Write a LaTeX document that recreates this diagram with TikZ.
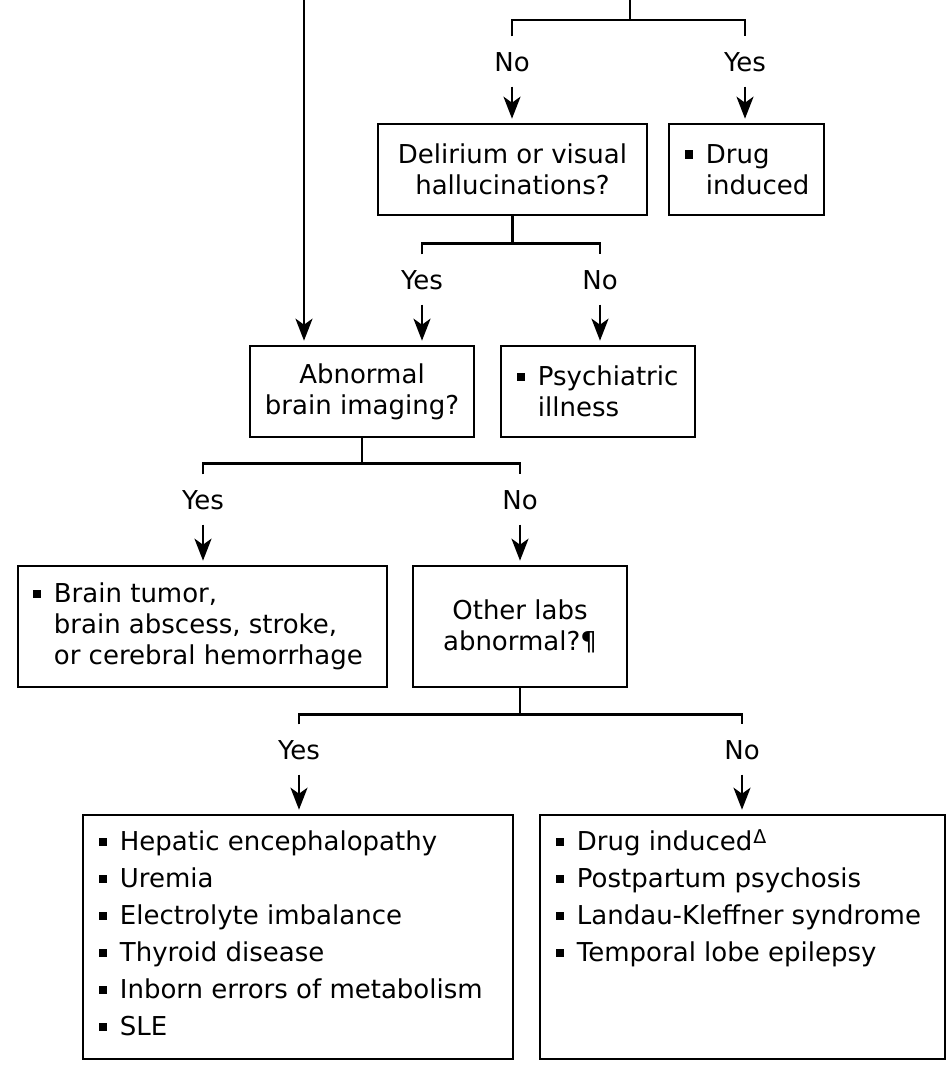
\documentclass[tikz,border=0pt]{standalone}
\usepackage{fontspec}
\setmainfont{DejaVu Sans}
\usetikzlibrary{arrows.meta,calc}
\newcommand{\bul}{\makebox[21pt][l]{\rule[4.5pt]{8.5pt}{8.5pt}}}
\newcommand{\ind}{\hspace*{21pt}}
\newcommand{\supdelta}{\kern1pt\raisebox{7pt}{\fontsize{19pt}{19pt}\selectfont Δ}}
\tikzset{
  box/.style={draw, line width=2.6pt, inner sep=0pt, align=center,
    font=\fontsize{26pt}{31pt}\selectfont},
  lab/.style={inner sep=0pt, text height=19pt, text depth=0pt,
    font=\fontsize{26pt}{31pt}\selectfont},
  txt/.style={inner sep=0pt, align=left, font=\fontsize{26pt}{31pt}\selectfont},
  listtxt/.style={inner sep=0pt, align=left, font=\fontsize{26pt}{37pt}\selectfont},
  con/.style={line width=2.6pt},
  arr/.style={line width=2.6pt, -{Stealth[length=22pt,width=17pt,inset=6pt]}},
}
\begin{document}
\begin{tikzpicture}[x=1pt,y=1pt]
\useasboundingbox (0,0) rectangle (948,-1067);
% boxes
\node[box, minimum width=269pt, minimum height=91pt] (delir) at (512.5,-169.5) {Delirium or visual\\hallucinations?};
\node[box, minimum width=155pt, minimum height=91pt] (drug) at (746.5,-169.5) {};
\node[txt, anchor=west] (drugT) at ([xshift=17pt]drug.west) {\bul Drug\\\ind induced};
\node[box, minimum width=224pt, minimum height=91pt] (abn) at (362,-391.5) {Abnormal\\brain imaging?};
\node[box, minimum width=194pt, minimum height=91pt] (psych) at (598,-391.5) {};
\node[txt, anchor=west] (psychT) at ([xshift=17pt]psych.west) {\bul Psychiatric\\\ind illness};
\node[box, minimum width=369pt, minimum height=121pt] (brain) at (202.5,-626.5) {};
\node[txt, anchor=west] (brainT) at ([xshift=16pt]brain.west) {\bul Brain tumor,\\\ind brain abscess, stroke,\\\ind or cerebral hemorrhage};
\node[box, minimum width=214pt, minimum height=121pt] (other) at (520,-626.5) {Other labs\\abnormal?¶};
\node[box, minimum width=430pt, minimum height=244pt] (leftL) at (298,-937) {};
\node[listtxt, anchor=north west] (leftT) at ([xshift=17pt,yshift=-13pt]leftL.north west)
  {\rule{0pt}{24pt}\bul Hepatic encephalopathy\\\bul Uremia\\\bul Electrolyte imbalance\\\bul Thyroid disease\\\bul Inborn errors of metabolism\\\bul SLE};
\node[box, minimum width=405pt, minimum height=244pt] (rightL) at (742.5,-937) {};
\node[listtxt, anchor=north west] (rightT) at ([xshift=17pt,yshift=-13pt]rightL.north west)
  {\rule{0pt}{24pt}\bul Drug induced\supdelta\\\bul Postpartum psychosis\\\bul Landau-Kleffner syndrome\\\bul Temporal lobe epilepsy};
% labels
\node[lab] (noA) at (512,-62) {No};
\node[lab] (yesA) at (745,-62) {Yes};
\node[lab] (yesB) at (422,-280) {Yes};
\node[lab] (noB) at (600,-280) {No};
\node[lab] (yesC) at (203,-500) {Yes};
\node[lab] (noC) at (520,-500) {No};
\node[lab] (yesD) at (299,-750) {Yes};
\node[lab] (noD) at (742,-750) {No};
% free ends and junctions
\coordinate (topL) at (304,0);
\coordinate (topR) at (630,0);
\coordinate (j1) at (630,-20);
\coordinate (j2) at ([yshift=-27pt]delir.south);
\coordinate (j3) at ([yshift=-25pt]abn.south);
\coordinate (j4) at ([yshift=-26pt]other.south);
% level 1
\draw[con] (topR) -- (j1);
\draw[con] ([yshift=16pt]noA.north) |- (j1) -| ([yshift=16pt]yesA.north);
\draw[arr] ([yshift=-15pt]noA.south) -- ([yshift=4pt]noA.south |- delir.north);
\draw[arr] ([yshift=-15pt]yesA.south) -- ([yshift=4pt]yesA.south |- drug.north);
% left long arrow
\draw[arr] (topL) -- ([yshift=4pt]topL |- abn.north);
% level 2
\draw[con] (delir.south) -- (j2);
\draw[con] ([yshift=16pt]yesB.north) |- (j2) -| ([yshift=16pt]noB.north);
\draw[arr] ([yshift=-15pt]yesB.south) -- ([yshift=4pt]yesB.south |- abn.north);
\draw[arr] ([yshift=-15pt]noB.south) -- ([yshift=4pt]noB.south |- psych.north);
% level 3
\draw[con] (abn.south) -- (j3);
\draw[con] ([yshift=16pt]yesC.north) |- (j3) -| ([yshift=16pt]noC.north);
\draw[arr] ([yshift=-15pt]yesC.south) -- ([yshift=4pt]yesC.south |- brain.north);
\draw[arr] ([yshift=-15pt]noC.south) -- ([yshift=4pt]noC.south |- other.north);
% level 4
\draw[con] (other.south) -- (j4);
\draw[con] ([yshift=16pt]yesD.north) |- (j4) -| ([yshift=16pt]noD.north);
\draw[arr] ([yshift=-15pt]yesD.south) -- ([yshift=4pt]yesD.south |- leftL.north);
\draw[arr] ([yshift=-15pt]noD.south) -- ([yshift=4pt]noD.south |- rightL.north);
\end{tikzpicture}
\end{document}
